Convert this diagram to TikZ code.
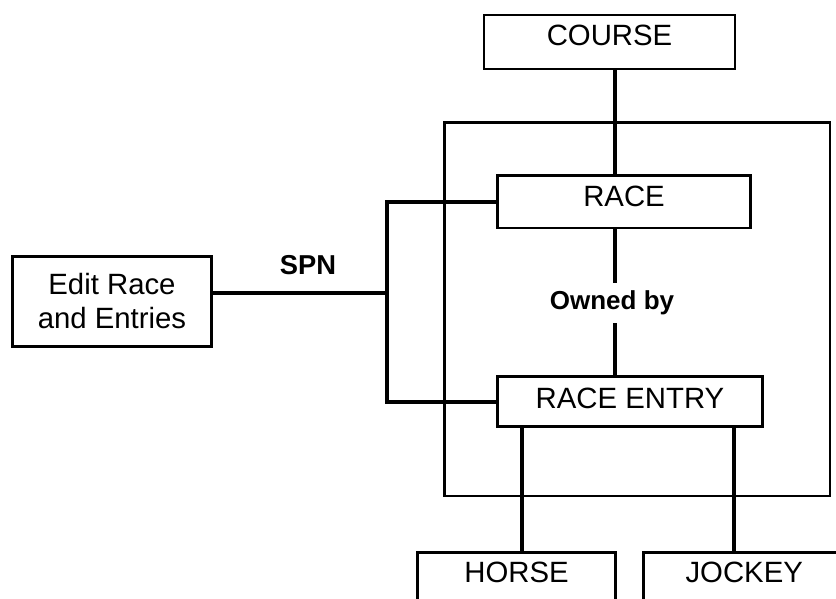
\documentclass[tikz,border=0pt]{standalone}
\usepackage{fontspec}
\setmainfont{Liberation Sans}
\begin{document}
\begin{tikzpicture}[x=0.75pt,y=-0.75pt,
  box/.style={draw,line width=2pt,inner sep=0pt,align=center,
    font=\fontsize{22}{25.5}\selectfont},
  frame/.style={draw,line width=2.2pt,inner sep=0pt},
  link/.style={line width=3pt},
  thinlink/.style={line width=2.5pt},
  lbl/.style={inner sep=0pt}]
\useasboundingbox (0,0) rectangle (836,599);
\clip (0,0) rectangle (836,599);
\fill[white] (0,0) rectangle (836,599);

% enclosing frame around race / entry
\node[frame,minimum width=289.1pt,minimum height=280.1pt] (frame) at (637.25,309.25) {};

% entity boxes
\node[box,minimum width=188.25pt,minimum height=40.5pt,text depth=9.75pt] (course) at (609.5,42) {COURSE};
\node[box,minimum width=189.75pt,minimum height=39.4pt,text depth=8.6pt] (race) at (624,201.75) {RACE};
\node[box,minimum width=198.75pt,minimum height=37.5pt,text depth=5.25pt] (entry) at (630,401.5) {RACE ENTRY};
\node[box,minimum width=149.25pt,minimum height=67.5pt] (edit) at (112,301.5) {Edit Race\\and Entries};
\node[box,minimum width=148.5pt,minimum height=41.25pt,text depth=12pt] (horse) at (516.5,580) {HORSE};
\node[box,minimum width=151.1pt,minimum height=41.25pt,text depth=12pt] (jockey) at (744.25,580) {JOCKEY};

% labels
\node[lbl,font=\fontsize{20.5}{24}\selectfont\bfseries] (spn) at (308,265) {SPN};
\node[lbl,inner ysep=6pt,font=\fontsize{19.5}{23}\selectfont\bfseries] (owned) at (612,303) {Owned by};

% connector positions
\coordinate (cx) at (615,0);
\coordinate (hx) at (522,0);
\coordinate (jx) at (734,0);
\coordinate (bb) at (387,401.5);
\coordinate (sj) at (387,293);

% connectors
\draw[link] (course.south -| cx) -- (race.north -| cx);
\draw[link] (race.south -| cx) -- (owned.north -| cx);
\draw[link] (owned.south -| cx) -- (entry.north -| cx);
\draw[link] (race.west) -| (bb) -- (entry.west);
\draw[thinlink] (edit.east |- sj) -- (sj);
\draw[link] (entry.south -| hx) -- (horse.north -| hx);
\draw[link] (entry.south -| jx) -- (jockey.north -| jx);
\end{tikzpicture}
\end{document}
